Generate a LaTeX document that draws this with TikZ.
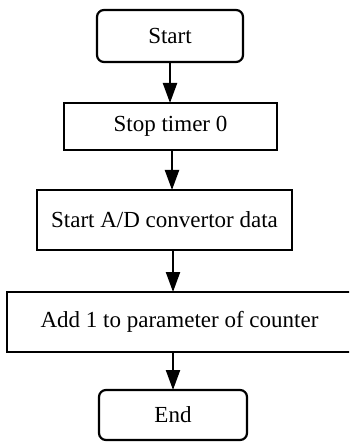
\documentclass[tikz,border=0pt]{standalone}
\usepackage{fontspec}
\setmainfont{Liberation Serif}
\usetikzlibrary{arrows.meta,positioning}

\begin{document}
\begin{tikzpicture}[x=1pt,y=1pt,line width=2.2pt,node distance=40pt,
                    font=\fontsize{23}{27}\selectfont,
                    >={Triangle[width=14pt,length=20pt]}]
  \tikzstyle{box}=[draw,inner sep=0pt,outer sep=0pt,fill=white]
  \tikzstyle{term}=[box,rounded corners=7pt]

  \clip (0,0) rectangle (349,-443);
  \useasboundingbox (0,0) rectangle (349,-443);

  \node[term,minimum width=146pt,minimum height=52pt] (start) at (170,-36) {Start};
  \node[box,minimum width=213pt,minimum height=47pt]  (stop)  [below=41pt of start,xshift=0.5pt] {Stop timer 0};
  \node[box,minimum width=255pt,minimum height=60pt]  (adc)   [below=40pt of stop,xshift=-6pt] {Start A/D convertor data};
  \node[box,minimum width=345pt,minimum height=60pt]  (add)   [below=42pt of adc,xshift=15pt] {Add 1 to parameter of counter};
  \node[term,minimum width=148pt,minimum height=50pt] (end)   [below=38pt of add,xshift=-6.5pt] {End};

  \draw[->] (start) -- (start |- stop.north);
  \draw[->] ([xshift=1.5pt]stop.south) -- ([xshift=1.5pt]stop.south |- adc.north);
  \draw[->] ([xshift=8.5pt]adc.south) -- ([xshift=8.5pt]adc.south |- add.north);
  \draw[->] (add.south -| end) -- (end);

\end{tikzpicture}
\end{document}
